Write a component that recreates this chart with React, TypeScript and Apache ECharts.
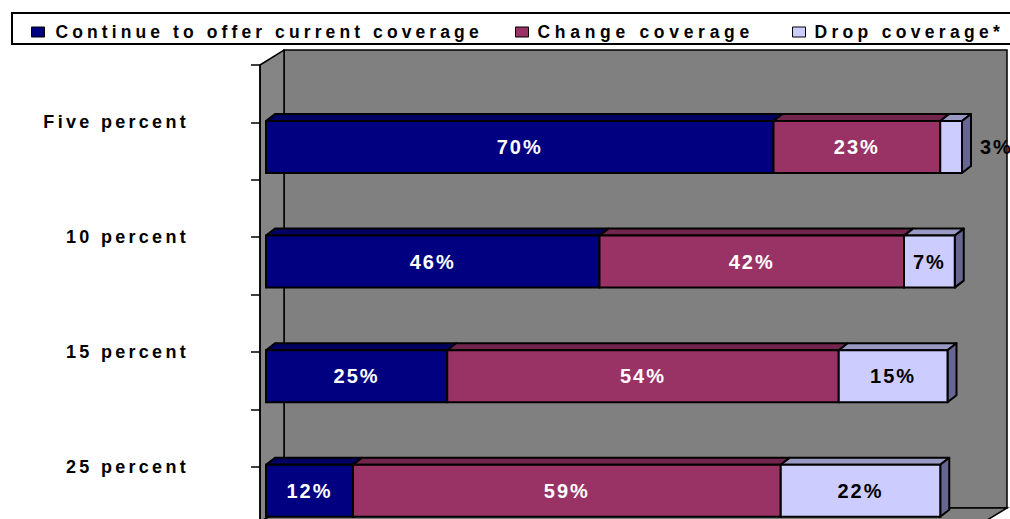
import React, { useEffect, useRef } from "react";
import * as echarts from "echarts";

const categories = ["Five percent", "10 percent", "15 percent", "25 percent"];
const seriesNames = ["Continue to offer current coverage", "Change coverage", "Drop coverage*"];
const continueValues = [70, 46, 25, 12];
const changeValues = [23, 42, 54, 59];
const dropValues = [3, 7, 15, 22];
const frontTicks = [0, 1, 2, 3, 4, 5, 6, 7, 8];

const stacks = [continueValues, changeValues, dropValues];
const frontColors = ["#000080", "#993366", "#CCCCFF"];
const topColors = ["#000062", "#73264D", "#9999C4"];
const sideColors = ["#000050", "#5c1f3d", "#666690"];
const labelColors = ["#ffffff", "#ffffff", "#000000"];
const legendSpacing = [4.1, 4.7, 4.3];

const FONT = "'Liberation Sans', Arial, Helvetica, sans-serif";

function seriesData(k: number) {
  return categories.map((_, i) => {
    let start = 0;
    for (let j = 0; j < k; j++) start += stacks[j][i];
    return [start, start + stacks[k][i], i, stacks[k][i]];
  });
}

function makeRenderItem(k: number) {
  return (params: any, api: any) => {
    const p0 = api.coord([api.value(0), api.value(2)]);
    const p1 = api.coord([api.value(1), api.value(2)]);
    const band = api.size([0, 1])[1];
    const h = band * 0.454;
    const x0 = p0[0];
    const x1 = p1[0];
    const yc = p0[1];
    const y0 = yc - h / 2;
    const y1 = yc + h / 2;
    const dx = 9;
    const dy = -7;
    const lw = 2;
    const children: any[] = [];
    children.push({
      type: "polygon",
      shape: { points: [[x0, y0], [x0 + dx, y0 + dy], [x1 + dx, y0 + dy], [x1, y0]] },
      style: { fill: topColors[k], stroke: "#000", lineWidth: lw, lineJoin: "round" },
    });
    if (k === stacks.length - 1) {
      children.push({
        type: "polygon",
        shape: { points: [[x1, y0], [x1 + dx, y0 + dy], [x1 + dx, y1 + dy], [x1, y1]] },
        style: { fill: sideColors[k], stroke: "#000", lineWidth: lw, lineJoin: "round" },
      });
    }
    children.push({
      type: "rect",
      shape: { x: x0, y: y0, width: x1 - x0, height: h },
      style: { fill: frontColors[k], stroke: "#000", lineWidth: lw },
    });
    const w = x1 - x0;
    const inside = w > 30;
    children.push({
      type: "text",
      style: {
        text: api.value(3) + "%",
        x: inside ? (x0 + x1) / 2 : x1 + 18,
        y: yc,
        align: inside ? "center" : "left",
        verticalAlign: "middle",
        fill: inside ? labelColors[k] : "#000",
        font: `bold 20px ${FONT}`,
      },
    });
    return { type: "group", children };
  };
}

export default function App() {
  const ref = useRef<HTMLDivElement>(null);
  useEffect(() => {
    const el = ref.current!;
    const chart = echarts.init(el, null, { renderer: "svg" });

    const legendLefts = [31, 515, 792];
    const legends = seriesNames.map((n, i) => ({
      data: [n],
      left: legendLefts[i],
      top: 23,
      padding: 0,
      itemWidth: 13,
      itemHeight: 10,
      icon: "rect",
      selectedMode: false,
      itemStyle: { borderColor: "#000", borderWidth: 1 },
      textStyle: {
        fontFamily: FONT,
        fontWeight: "bold",
        fontSize: 17.5,
        color: "#000",
        padding: [0, 0, 0, i === 0 ? 6 : 4],
      },
    }));

    const option: any = {
      animation: false,
      backgroundColor: "#ffffff",
      legend: legends,
      graphic: [
        {
          type: "rect",
          z: 1,
          shape: { x: 12, y: 13, width: 1010, height: 31 },
          style: { fill: "#fff", stroke: "#000", lineWidth: 2 },
        },
        {
          type: "polygon",
          z: 0,
          shape: { points: [[284, 50], [1007, 50], [1007, 508], [284, 508]] },
          style: { fill: "#808080", stroke: "#000", lineWidth: 1.5 },
        },
        {
          type: "polygon",
          z: 0,
          shape: { points: [[260, 65], [284, 50], [284, 508], [260, 522]] },
          style: { fill: "#858585", stroke: "#000", lineWidth: 1.5 },
        },
        {
          type: "polygon",
          z: 0,
          shape: { points: [[260, 522], [284, 508], [1007, 508], [984, 522]] },
          style: { fill: "#808080", stroke: "#000", lineWidth: 1.5 },
        },
      ],
      grid: [
        { left: 266, top: 89.7, width: 725, height: 458.4, containLabel: false },
        { left: 260, top: 65, width: 700, height: 459.2, containLabel: false },
      ],
      xAxis: [
        { type: "value", gridIndex: 0, min: 0, max: 100, show: false },
        { type: "value", gridIndex: 1, min: 0, max: 100, show: false },
      ],
      yAxis: [
        { type: "category", gridIndex: 0, data: categories, inverse: true, show: false },
        {
          type: "value",
          gridIndex: 1,
          min: frontTicks[0],
          max: frontTicks[frontTicks.length - 1],
          interval: 1,
          inverse: true,
          z: 3,
          axisLine: { show: true, lineStyle: { color: "#000", width: 1.5 } },
          axisTick: { show: true, length: 9, inside: false, lineStyle: { color: "#000", width: 1.5 } },
          splitLine: { show: false },
          axisLabel: {
            margin: 71,
            fontFamily: FONT,
            fontWeight: "bold",
            fontSize: 18,
            color: "#000",
            formatter: (v: number) => (v % 2 === 1 ? categories[(v - 1) / 2] : ""),
          },
        },
      ],
      series: seriesNames.map((n, k) => ({
        type: "custom",
        name: n,
        xAxisIndex: 0,
        yAxisIndex: 0,
        z: 5,
        itemStyle: { color: frontColors[k] },
        encode: { x: [0, 1], y: 2 },
        data: seriesData(k),
        renderItem: makeRenderItem(k),
      })),
    };

    const applySpacing = () => {
      el.querySelectorAll("text").forEach((t) => {
        const s = (t.textContent || "").trim();
        let ls = 0;
        if (s.endsWith("%")) ls = 2;
        else if (categories.includes(s)) ls = 3.3;
        else if (seriesNames.includes(s)) ls = legendSpacing[seriesNames.indexOf(s)];
        if (ls) t.setAttribute("letter-spacing", ls + "px");
      });
    };
    chart.on("finished", applySpacing);
    chart.setOption(option);
    applySpacing();
    const timer = setTimeout(applySpacing, 50);

    return () => {
      clearTimeout(timer);
      chart.dispose();
    };
  }, []);

  return (
    <div
      ref={ref}
      style={{ position: "fixed", left: 0, top: 0, width: 1010, height: 560, background: "#fff" }}
    />
  );
}
